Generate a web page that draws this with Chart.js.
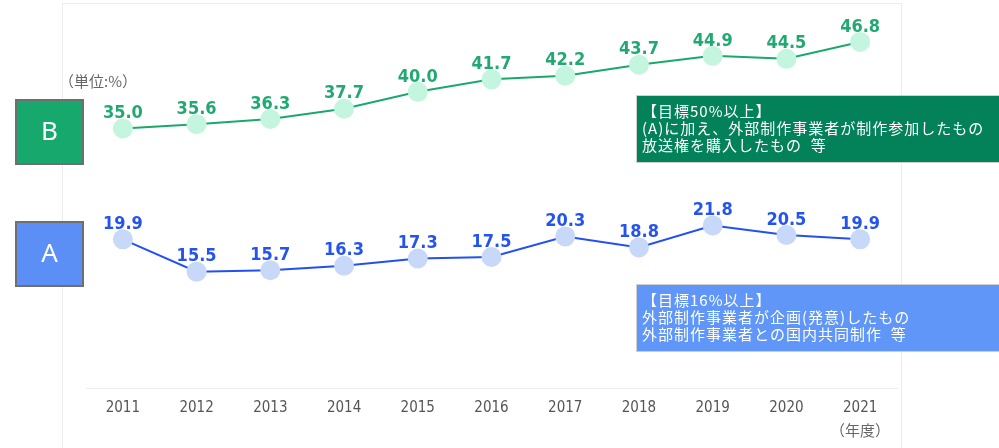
<!DOCTYPE html>
<html lang="ja">
<head>
<meta charset="UTF-8">
<title>外部制作比率</title>
<script src="https://cdn.jsdelivr.net/npm/chart.js"></script>
<style>
  html, body { margin: 0; padding: 0; background: #fff; }
  .chart-container { width: 999px; height: 448px; }
</style>
</head>
<body>
<div class="chart-container">
  <canvas id="ratioChart" width="999" height="448"></canvas>
</div>
<script>
const years = ['2011', '2012', '2013', '2014', '2015', '2016', '2017', '2018', '2019', '2020', '2021'];
const seriesB = [35.0, 35.6, 36.3, 37.7, 40.0, 41.7, 42.2, 43.7, 44.9, 44.5, 46.8];
const seriesA = [19.9, 15.5, 15.7, 16.3, 17.3, 17.5, 20.3, 18.8, 21.8, 20.5, 19.9];
const noteB = ['【目標50%以上】', '(A)に加え、外部制作事業者が制作参加したもの', '放送権を購入したもの  等'];
const noteA = ['【目標16%以上】', '外部制作事業者が企画(発意)したもの', '外部制作事業者との国内共同制作  等'];

const narrow = '"Liberation Sans Narrow", "DejaVu Sans Condensed", sans-serif';
const jp = '"Noto Sans CJK JP", "Noto Sans", sans-serif';

// frame, boxes and notes around the plot
const decor = {
  id: 'decor',
  beforeDraw(chart) {
    const ctx = chart.ctx;
    ctx.save();
    ctx.strokeStyle = '#ececec';
    ctx.lineWidth = 1;
    ctx.strokeRect(62.5, 3.5, 839, 460);
    ctx.restore();
  },
  afterDraw(chart) {
    const ctx = chart.ctx;
    ctx.save();

    function tag(x, y, fill, letter) {
      ctx.fillStyle = fill;
      ctx.fillRect(x, y, 67, 64);
      ctx.strokeStyle = '#6f6f6f';
      ctx.lineWidth = 2;
      ctx.strokeRect(x, y, 67, 64);
      ctx.fillStyle = '#fff';
      ctx.font = '26px "Noto Sans", sans-serif';
      ctx.textAlign = 'center';
      ctx.textBaseline = 'middle';
      ctx.fillText(letter, x + 33.5, y + 33);
    }
    tag(16, 100, '#16a86c', 'B');
    tag(16, 222, '#5b8ff5', 'A');

    function note(y, fill, lines) {
      ctx.fillStyle = fill;
      ctx.fillRect(636, y, 370, 68);
      ctx.strokeStyle = '#cfcfcf';
      ctx.lineWidth = 1;
      ctx.strokeRect(636.5, y + 0.5, 370, 67);
      ctx.fillStyle = '#fff';
      ctx.font = '15px ' + jp;
      ctx.letterSpacing = '1px';
      ctx.textAlign = 'left';
      ctx.textBaseline = 'middle';
      lines.forEach((t, i) => ctx.fillText(t, 642, y + 16 + i * 17));
      ctx.letterSpacing = '0px';
    }
    note(95, '#03825a', noteB);
    note(284, '#5f96f8', noteA);

    ctx.fillStyle = '#666';
    ctx.font = '15px ' + jp;
    ctx.textAlign = 'left';
    ctx.textBaseline = 'middle';
    ctx.fillText('（単位:%）', 59, 81);
    ctx.textAlign = 'center';
    ctx.fillText('（年度）', 860, 430);

    // value labels above the points
    ctx.font = 'bold 18px ' + narrow;
    ctx.textAlign = 'center';
    ctx.textBaseline = 'middle';
    chart.data.datasets.forEach((ds, di) => {
      const meta = chart.getDatasetMeta(di);
      ctx.fillStyle = ds.labelColor;
      meta.data.forEach((pt, i) => {
        ctx.fillText(ds.data[i].toFixed(1), pt.x, pt.y - 15);
      });
    });
    ctx.restore();
  }
};

new Chart(document.getElementById('ratioChart'), {
  type: 'line',
  data: {
    labels: years,
    datasets: [
      {
        label: 'B',
        data: seriesB,
        borderColor: '#1aa96c',
        borderWidth: 2,
        pointBackgroundColor: '#c3f5df',
        pointBorderWidth: 0,
        pointRadius: 10,
        tension: 0,
        labelColor: '#22a872'
      },
      {
        label: 'A',
        data: seriesA,
        borderColor: '#2350f2',
        borderWidth: 2,
        pointBackgroundColor: '#c8d8f8',
        pointBorderWidth: 0,
        pointRadius: 10,
        tension: 0,
        labelColor: '#2453f0'
      }
    ]
  },
  options: {
    responsive: false,
    animation: false,
    layout: { padding: { left: 86, right: 102, top: 4, bottom: 20 } },
    plugins: {
      legend: { display: false },
      tooltip: { enabled: false }
    },
    scales: {
      x: {
        offset: true,
        grid: { display: false, drawTicks: false },
        border: { display: true, color: '#ececec', width: 1 },
        ticks: {
          color: '#555',
          padding: 11,
          font: { family: narrow, size: 15 }
        }
      },
      y: {
        display: false,
        min: -0.35,
        max: 51.15
      }
    }
  },
  plugins: [decor]
});
</script>
</body>
</html>
